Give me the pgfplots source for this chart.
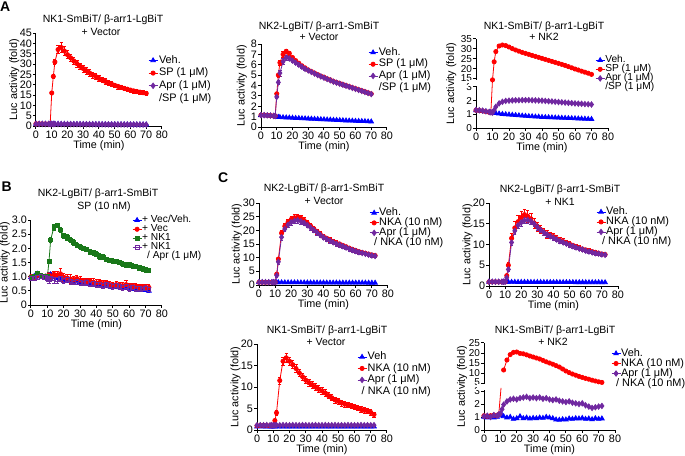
\documentclass[border=0pt]{standalone}
\usepackage{fontspec}
\setmainfont{Liberation Sans}
\usepackage{pgfplots}
\usepackage{pgfplotstable}
\pgfplotsset{compat=1.18}

\definecolor{cblue}{RGB}{0,0,255}
\definecolor{cred}{RGB}{255,0,0}
\definecolor{cpurple}{RGB}{112,40,160}
\definecolor{cgreen}{RGB}{25,120,25}

\newcommand\fs{\fontsize{10.5}{12}\selectfont}
\newcommand\ft{\fontsize{10.8}{12}\selectfont}
\newcommand\fl{\fontsize{10.9}{12}\selectfont}
\newcommand\fb{\fontsize{10.2}{12}\selectfont}
\newcommand\fk{\fontsize{10}{11}\selectfont}

\pgfplotsset{
  legend image code/.code={\draw[mark repeat=2,mark phase=2,#1] plot coordinates {(0pt,0pt) (4.5pt,0pt) (9pt,0pt)};},
  prism/.style={
    scale only axis, anchor=south west,
    axis lines=left, axis line style={line width=1pt,-},
    tick align=outside, major tick length=2.8pt,
    tick style={line width=1pt,black},
    enlargelimits=false, clip=false,
    xmin=0, xmax=80, xtick={0,10,...,80}, ymin=0,
    tick label style={font=\ft},
    yticklabel style={inner sep=1pt},
    xticklabel style={inner sep=2pt},
    label style={font=\ft},
    /pgf/number format/assume math mode=true,
    xlabel={Time (min)}, ylabel={Luc activity (fold)},
    xlabel style={at={(axis description cs:0.5,0)},anchor=center,yshift=-20pt},
    legend cell align=left,
    legend style={draw=none,fill=none,inner sep=0pt,anchor=north west,row sep=0pt,
      nodes={inner sep=1pt,font=\fl,text height=7.7pt,text depth=2.3pt}},
  },
  tight legend/.style={legend style={nodes={inner sep=0.2pt,font=\fb,text height=6.6pt,text depth=2.1pt}}},
  mid legend/.style={legend style={nodes={inner sep=0.2pt,text height=7.4pt,text depth=2.2pt}}},
  broken ticks/.style={yticklabel style={inner sep=0.3pt,xshift=-0.7pt,font=\fk}},
  veh/.style={color=cblue,line width=0.8pt,mark=triangle*,mark size=2.6pt},
  ag/.style={color=cred,line width=0.8pt,mark=*,mark size=2.1pt},
  apr/.style={color=cpurple,line width=0.8pt,mark=diamond*,mark size=2.7pt},
  nkg/.style={color=cgreen,line width=0.8pt,mark=square*,mark size=1.9pt},
  apro/.style={color=cpurple,line width=0.7pt,mark=square,mark size=1.9pt,mark options={fill=white}},
  eb/.style={error bars/.cd,y dir=both,y explicit,error bar style={line width=0.6pt},
    error mark options={rotate=90,mark size=1.6pt,line width=0.6pt}},
}

% A: NK1-SmBiT / b-arr1-LgBiT + Vector
\pgfplotstableread{
t veh sp esp apr
0 1.05 1.10 0.10 1.00
2 1.04 1.08 0.10 1.00
4 1.03 1.05 0.10 1.00
6 1.02 1.03 0.10 0.98
8 1.00 1.00 0.10 0.97
9 1.00 1.00 0.10 0.97
10 0.98 16.0 0.8 0.96
11 0.97 24.0 1.0 0.95
12 0.96 31.0 1.2 0.95
14 0.95 37.0 2.0 0.94
16 0.93 38.0 2.3 0.93
18 0.92 36.3 2.1 0.92
20 0.90 34.5 1.9 0.91
22 0.89 33.0 1.8 0.90
24 0.88 31.5 1.7 0.89
26 0.87 30.2 1.7 0.88
28 0.86 28.9 1.6 0.87
30 0.85 27.8 1.6 0.86
32 0.84 26.7 1.5 0.85
34 0.83 25.7 1.5 0.84
36 0.82 24.7 1.4 0.83
38 0.81 23.9 1.4 0.82
40 0.80 23.0 1.4 0.81
42 0.79 22.3 1.3 0.80
44 0.78 21.6 1.3 0.79
46 0.77 20.9 1.3 0.78
48 0.76 20.3 1.2 0.77
50 0.75 19.7 1.2 0.76
52 0.74 19.2 1.2 0.75
54 0.73 18.7 1.1 0.74
56 0.72 18.2 1.1 0.73
58 0.71 17.8 1.1 0.72
60 0.70 17.4 1.0 0.71
62 0.70 17.0 1.0 0.70
64 0.69 16.7 1.0 0.69
66 0.68 16.4 1.0 0.68
68 0.67 16.1 1.0 0.67
70 0.66 15.8 1.0 0.66
}\tAa

% A: NK2-LgBiT / b-arr1-SmBiT + Vector
\pgfplotstableread{
t veh sp esp apr eapr
0 1.12 1.15 0.05 1.14 0.05
2 1.12 1.15 0.05 1.14 0.05
4 1.10 1.13 0.05 1.12 0.05
6 1.08 1.10 0.05 1.10 0.05
8 1.05 1.08 0.05 1.07 0.05
9 1.03 1.06 0.05 1.05 0.05
10 0.97 3.20 0.15 2.90 0.15
11 0.96 5.00 0.20 4.30 0.20
12 0.95 6.20 0.25 5.20 0.30
14 0.93 7.00 0.25 6.30 0.30
16 0.91 7.30 0.20 6.70 0.25
18 0.90 7.10 0.20 6.60 0.20
20 0.88 6.70 0.15 6.40 0.20
22 0.86 6.40 0.15 6.20 0.15
24 0.85 6.15 0.15 6.00 0.15
26 0.83 5.90 0.10 5.80 0.15
28 0.82 5.70 0.10 5.60 0.10
30 0.80 5.50 0.10 5.45 0.10
32 0.79 5.35 0.10 5.30 0.10
34 0.77 5.20 0.10 5.15 0.10
36 0.76 5.05 0.10 5.00 0.10
38 0.74 4.90 0.10 4.87 0.10
40 0.73 4.80 0.10 4.75 0.10
42 0.71 4.65 0.10 4.62 0.10
44 0.70 4.55 0.10 4.50 0.10
46 0.68 4.40 0.10 4.37 0.10
48 0.67 4.30 0.10 4.27 0.10
50 0.65 4.20 0.10 4.17 0.10
52 0.64 4.10 0.10 4.07 0.10
54 0.62 4.00 0.10 3.97 0.10
56 0.61 3.90 0.10 3.87 0.10
58 0.60 3.80 0.10 3.77 0.10
60 0.58 3.70 0.10 3.67 0.10
62 0.57 3.60 0.10 3.57 0.10
64 0.56 3.50 0.10 3.47 0.10
66 0.55 3.40 0.10 3.37 0.10
68 0.53 3.30 0.10 3.27 0.10
70 0.52 3.20 0.10 3.17 0.10
}\tAb

% A: NK1-SmBiT / b-arr1-LgBiT + NK2 (broken axis)
\pgfplotstableread{
t veh sp apr
0 1.28 1.30 1.32
2 1.26 1.28 1.30
4 1.24 1.25 1.27
6 1.20 1.20 1.22
8 1.16 1.15 1.17
9 1.14 1.12 1.15
10 1.12 13.7 1.12
11 1.10 23.6 1.30
12 1.08 28.7 1.55
14 1.05 31.5 1.80
16 1.02 32.0 1.92
18 1.00 31.7 1.98
20 0.98 31.0 2.00
22 0.96 30.2 2.02
24 0.94 29.5 2.03
26 0.92 28.9 2.03
28 0.90 28.3 2.04
30 0.88 27.8 2.04
32 0.86 27.3 2.04
34 0.85 26.8 2.03
36 0.83 26.3 2.02
38 0.82 25.8 2.01
40 0.80 25.3 2.00
42 0.79 24.8 1.98
44 0.78 24.3 1.96
46 0.77 23.8 1.94
48 0.76 23.3 1.92
50 0.75 22.8 1.90
52 0.74 22.3 1.88
54 0.73 21.8 1.86
56 0.72 21.2 1.84
58 0.71 20.6 1.82
60 0.70 20.0 1.80
62 0.69 19.5 1.78
64 0.68 18.9 1.77
66 0.67 18.4 1.75
68 0.66 17.9 1.74
70 0.65 17.3 1.72
}\tAc

% B: NK2-LgBiT / b-arr1-SmBiT, SP (10 nM)
\pgfplotstableread{
t veh vec evec nk1 enk1 apr eapr
0 0.98 1.00 0.06 0.98 0.05 0.95 0.06
2 1.02 0.98 0.05 1.02 0.05 0.95 0.06
4 1.10 1.05 0.06 1.12 0.06 0.98 0.06
6 1.00 1.02 0.05 1.05 0.05 1.00 0.06
8 0.98 1.00 0.05 1.02 0.05 0.98 0.06
9 1.00 1.02 0.06 1.00 0.05 0.97 0.06
10 0.97 1.00 0.10 1.00 0.06 0.95 0.10
11 1.05 1.05 0.12 1.55 0.08 0.90 0.12
12 1.08 1.00 0.15 2.30 0.10 0.95 0.12
14 1.00 1.08 0.12 2.75 0.10 0.92 0.14
16 0.95 1.05 0.15 2.82 0.08 0.90 0.15
18 0.92 1.10 0.18 2.65 0.10 0.95 0.12
20 0.90 0.98 0.15 2.45 0.08 0.88 0.12
22 0.88 0.95 0.12 2.38 0.10 0.90 0.10
24 0.85 0.92 0.15 2.30 0.08 0.85 0.12
26 0.86 0.90 0.10 2.22 0.10 0.82 0.10
28 0.82 0.93 0.12 2.12 0.08 0.85 0.12
30 0.80 0.88 0.14 2.05 0.10 0.80 0.10
32 0.78 0.85 0.10 2.00 0.08 0.78 0.10
34 0.79 0.82 0.12 1.96 0.08 0.80 0.10
36 0.75 0.85 0.10 1.88 0.10 0.75 0.10
38 0.74 0.80 0.15 1.85 0.08 0.76 0.10
40 0.72 0.78 0.12 1.80 0.08 0.72 0.10
42 0.70 0.80 0.10 1.72 0.10 0.74 0.10
44 0.71 0.75 0.12 1.70 0.08 0.70 0.10
46 0.68 0.78 0.10 1.62 0.08 0.72 0.10
48 0.66 0.72 0.12 1.58 0.08 0.68 0.10
50 0.65 0.70 0.10 1.56 0.08 0.66 0.10
52 0.66 0.72 0.12 1.55 0.08 0.68 0.10
54 0.62 0.70 0.10 1.50 0.08 0.65 0.10
56 0.60 0.68 0.12 1.45 0.08 0.62 0.10
58 0.62 0.72 0.14 1.42 0.08 0.65 0.10
60 0.60 0.68 0.10 1.42 0.08 0.60 0.10
62 0.57 0.65 0.12 1.38 0.08 0.62 0.10
64 0.58 0.66 0.10 1.36 0.08 0.58 0.10
66 0.55 0.62 0.12 1.32 0.08 0.60 0.10
68 0.56 0.64 0.10 1.28 0.08 0.57 0.10
70 0.52 0.60 0.12 1.25 0.08 0.58 0.10
72 0.50 0.62 0.10 1.22 0.06 0.55 0.10
}\tB

% C: NK2-LgBiT / b-arr1-SmBiT + Vector
\pgfplotstableread{
t veh nka enka apr eapr
0 1.00 1.00 0.10 1.00 0.10
2 1.00 1.00 0.10 1.00 0.10
4 1.00 1.00 0.10 1.00 0.10
6 0.98 1.00 0.10 1.00 0.10
8 1.00 1.00 0.10 1.00 0.10
9 0.98 1.00 0.10 1.00 0.10
10 0.97 1.00 0.10 1.00 0.10
11 0.95 4.0 0.5 3.5 0.5
12 0.95 9.5 0.8 8.5 0.8
14 0.94 19.0 1.0 17.5 1.0
16 0.93 21.5 1.2 20.5 1.0
18 0.92 23.0 1.2 22.0 1.0
20 0.92 24.0 1.2 23.0 1.0
22 0.91 24.6 1.2 23.5 1.0
24 0.90 24.8 1.0 23.7 1.0
26 0.90 24.4 1.0 23.3 1.0
28 0.90 23.6 1.0 22.7 1.0
30 0.89 22.6 1.0 21.9 0.9
32 0.88 21.6 0.9 21.0 0.9
34 0.88 20.6 0.9 20.1 0.9
36 0.87 19.6 0.9 19.2 0.9
38 0.87 18.6 0.9 18.3 0.8
40 0.86 17.7 0.8 17.4 0.8
42 0.86 17.1 0.8 16.8 0.8
44 0.85 16.5 0.8 16.2 0.8
46 0.85 15.9 0.8 15.6 0.8
48 0.85 15.4 0.8 15.1 0.8
50 0.84 15.0 0.8 14.7 0.8
52 0.84 14.5 0.7 14.2 0.7
54 0.83 14.0 0.7 13.7 0.7
56 0.83 13.5 0.7 13.2 0.7
58 0.82 13.0 0.7 12.8 0.7
60 0.82 12.6 0.7 12.4 0.7
62 0.82 12.2 0.6 12.0 0.6
64 0.81 11.9 0.6 11.7 0.6
66 0.81 11.6 0.6 11.4 0.6
68 0.80 11.3 0.6 11.1 0.6
70 0.80 11.0 0.6 10.8 0.6
72 0.80 10.8 0.6 10.6 0.6
}\tCa

% C: NK2-LgBiT / b-arr1-SmBiT + NK1
\pgfplotstableread{
t veh nka enka apr eapr
0 1.00 1.00 0.10 1.00 0.10
2 1.00 1.00 0.10 1.00 0.10
4 1.00 1.00 0.10 1.00 0.10
6 1.00 1.00 0.10 1.00 0.10
8 1.00 1.00 0.10 1.00 0.10
9 1.00 1.00 0.10 1.00 0.10
10 0.98 1.00 0.10 1.00 0.10
11 0.97 2.5 0.4 2.0 0.3
12 0.97 5.0 0.8 4.0 0.5
14 0.96 11.5 1.2 10.5 0.8
16 0.96 14.0 1.5 13.3 0.8
18 0.95 15.5 1.6 14.6 0.8
20 0.95 16.5 1.5 15.3 0.8
22 0.95 17.2 1.3 15.8 0.8
24 0.94 16.8 1.4 15.9 0.7
26 0.94 16.2 1.3 15.6 0.7
28 0.93 15.2 1.2 15.0 0.7
30 0.93 14.3 1.0 14.2 0.7
32 0.93 13.6 1.0 13.5 0.6
34 0.92 13.0 0.9 12.9 0.6
36 0.92 12.5 0.9 12.4 0.6
38 0.92 12.2 0.8 12.0 0.6
40 0.91 11.9 0.8 11.6 0.6
42 0.91 11.4 0.7 11.2 0.5
44 0.91 11.0 0.7 10.8 0.5
46 0.90 10.7 0.7 10.5 0.5
48 0.90 10.4 0.6 10.2 0.5
50 0.90 10.1 0.6 9.9 0.5
52 0.90 9.8 0.6 9.6 0.5
54 0.89 9.5 0.6 9.3 0.5
56 0.89 9.2 0.5 9.0 0.4
58 0.89 8.9 0.5 8.8 0.4
60 0.89 8.7 0.5 8.5 0.4
62 0.88 8.5 0.5 8.3 0.4
64 0.88 8.3 0.4 8.1 0.4
66 0.88 8.1 0.4 7.9 0.4
68 0.88 7.9 0.4 7.8 0.4
70 0.87 7.7 0.4 7.6 0.4
72 0.87 7.6 0.4 7.5 0.4
}\tCb

% C: NK1-SmBiT / b-arr1-LgBiT + Vector
\pgfplotstableread{
t veh nka enka apr
0 0.80 1.00 0.10 1.10
2 0.82 1.05 0.10 1.12
4 0.80 1.10 0.10 1.10
6 0.78 1.05 0.10 1.15
8 0.80 1.00 0.10 1.10
9 0.80 1.00 0.10 1.12
10 0.78 1.10 0.10 1.10
11 0.80 2.2 0.3 1.15
12 0.82 4.0 0.5 1.12
14 0.78 11.5 0.8 1.10
16 0.80 16.0 1.0 1.15
18 0.78 16.8 1.0 1.12
20 0.80 16.0 0.9 1.10
22 0.78 15.2 0.9 1.15
24 0.80 14.3 0.9 1.12
26 0.78 13.3 0.8 1.10
28 0.80 12.4 0.8 1.15
30 0.78 11.6 0.8 1.12
32 0.80 11.0 0.8 1.10
34 0.78 10.5 0.8 1.12
36 0.80 10.0 0.8 1.15
38 0.78 9.5 0.8 1.10
40 0.80 9.1 0.8 1.12
42 0.78 8.6 0.8 1.15
44 0.80 8.0 0.7 1.10
46 0.78 7.5 0.7 1.12
48 0.80 7.0 0.7 1.15
50 0.78 6.7 0.7 1.10
52 0.80 6.3 0.7 1.12
54 0.78 6.0 0.7 1.10
56 0.80 5.8 0.6 1.15
58 0.78 5.6 0.6 1.12
60 0.80 5.4 0.6 1.10
62 0.78 5.1 0.6 1.12
64 0.80 4.8 0.6 1.15
66 0.78 4.6 0.6 1.10
68 0.80 4.4 0.6 1.12
70 0.78 4.1 0.6 1.10
72 0.80 3.6 0.6 1.12
}\tCc

% C: NK1-SmBiT / b-arr1-LgBiT + NK2 (broken axis)
\pgfplotstableread{
t veh nka apr
0 1.00 1.10 1.05
2 0.95 1.05 1.10
4 1.05 1.10 1.00
6 0.95 1.15 1.15
8 1.00 1.10 1.10
9 1.10 1.20 1.20
10 1.25 3.80 1.25
11 1.15 7.50 1.60
12 1.05 11.5 1.95
14 0.95 16.5 2.20
16 1.00 19.2 2.35
18 0.85 20.3 2.40
20 0.90 20.5 2.35
22 1.05 19.8 2.45
24 0.90 19.6 2.50
26 0.95 19.1 2.55
28 0.88 18.5 2.45
30 0.92 18.0 2.50
32 0.90 17.5 2.45
34 0.95 17.0 2.50
36 0.92 16.3 2.40
38 1.00 15.6 2.45
40 0.95 15.0 2.35
42 0.90 14.4 2.30
44 0.80 13.7 2.35
46 0.78 13.0 2.25
48 0.82 12.0 2.20
50 0.80 11.0 2.15
52 0.88 10.2 2.20
54 0.85 9.5 2.10
56 0.90 8.9 2.05
58 0.88 8.3 2.00
60 0.92 7.8 2.05
62 0.85 7.3 1.90
64 0.88 6.9 1.80
66 0.82 6.4 1.70
68 0.90 6.0 1.75
70 0.85 5.6 1.80
72 0.88 5.3 1.85
}\tCd

\begin{document}
\begin{tikzpicture}
\useasboundingbox (0,0) rectangle (685pt,-455pt);

% panel letters
\node[font=\fontsize{14}{14}\selectfont\bfseries,anchor=north west,inner sep=0pt] at (0pt,-2pt) {A};
\node[font=\fontsize{14}{14}\selectfont\bfseries,anchor=north west,inner sep=0pt] at (1.5pt,-181.5pt) {B};
\node[font=\fontsize{14}{14}\selectfont\bfseries,anchor=north west,inner sep=0pt] at (218pt,-173pt) {C};

% titles
\node[font=\fs,anchor=base] at (103pt,-22.5pt) {NK1-SmBiT/ β-arr1-LgBiT};
\node[font=\fs,anchor=base] at (101pt,-35.5pt) {+ Vector};
\node[font=\fs,anchor=base] at (319pt,-29.2pt) {NK2-LgBiT/ β-arr1-SmBiT};
\node[font=\fs,anchor=base] at (319pt,-40.2pt) {+ Vector};
\node[font=\fs,anchor=base] at (544pt,-29.2pt) {NK1-SmBiT/ β-arr1-LgBiT};
\node[font=\fs,anchor=base] at (544pt,-40.8pt) {+ NK2};
\node[font=\fs,anchor=base] at (98pt,-196.8pt) {NK2-LgBiT/ β-arr1-SmBiT};
\node[font=\fs,anchor=base] at (104pt,-209.2pt) {SP (10 nM)};
\node[font=\fs,anchor=base] at (324pt,-191.8pt) {NK2-LgBiT/ β-arr1-SmBiT};
\node[font=\fs,anchor=base] at (324pt,-204.5pt) {+ Vector};
\node[font=\fs,anchor=base] at (560pt,-192.5pt) {NK2-LgBiT/ β-arr1-SmBiT};
\node[font=\fs,anchor=base] at (560pt,-205.2pt) {+ NK1};
\node[font=\fs,anchor=base] at (327pt,-333.5pt) {NK1-SmBiT/ β-arr1-LgBiT};
\node[font=\fs,anchor=base] at (326pt,-345.2pt) {+ Vector};
\node[font=\fs,anchor=base] at (555pt,-333.5pt) {NK1-SmBiT/ β-arr1-LgBiT};
\node[font=\fs,anchor=base] at (553pt,-345.8pt) {+ NK2};

% ---- A1
\begin{axis}[prism, at={(36pt,-126pt)}, width=126pt, height=93pt,
  ymax=45, ytick={0,5,...,45},
  ylabel style={at={(axis description cs:-0.171,0.5)},anchor=center},
  legend style={at={(0.889,0.772)},row sep=0.7pt}]
\addplot[veh] table[x=t,y=veh]{\tAa}; \addlegendentry{Veh.}
\addplot[ag,eb] table[x=t,y=sp,y error=esp]{\tAa}; \addlegendentry{SP (1 μM)}
\addplot[apr] table[x=t,y=apr]{\tAa}; \addlegendentry{Apr (1 μM)}
\addlegendimage{empty legend}\addlegendentry{/SP (1 μM)}
\end{axis}

% ---- A2
\begin{axis}[prism, at={(261pt,-127pt)}, width=126pt, height=83pt,
  ymax=8, ytick={0,1,...,8},
  ylabel style={at={(axis description cs:-0.153,0.5)},anchor=center},
  legend style={at={(0.849,0.97)},nodes={inner sep=0.85pt}}]
\addplot[veh] table[x=t,y=veh]{\tAb}; \addlegendentry{Veh.}
\addplot[ag,eb] table[x=t,y=sp,y error=esp]{\tAb}; \addlegendentry{SP (1 μM)}
\addplot[apr,eb] table[x=t,y=apr,y error=eapr]{\tAb}; \addlegendentry{Apr (1 μM)}
\addlegendimage{empty legend}\addlegendentry{/SP (1 μM)}
\end{axis}

% ---- A3 (broken y axis: 0-3 and 15-35)
\begin{axis}[prism, at={(476pt,-128pt)}, width=132pt, height=89pt,
  y coord trafo/.code={\pgfmathparse{ifthenelse(#1<=3,#1*41/3,ifthenelse(#1<15,41+(#1-3)*2/3,49+(#1-15)*2))}},
  y coord inv trafo/.code={\pgfmathparse{ifthenelse(#1<=41,#1*3/41,ifthenelse(#1<49,3+(#1-41)*1.5,15+(#1-49)/2))}},
  ymin=0, ymax=35, ytick={0,1,2,3,15,20,25,30,35},
  yticklabels={0,1,2,\raisebox{-1.2pt}{3},\raisebox{1.2pt}{15},20,25,30,35},
  broken ticks,
  ylabel style={at={(axis description cs:-0.186,0.5)},anchor=center},
  tight legend, legend style={at={(0.902,0.815)}}]
\addplot[veh] table[x=t,y=veh]{\tAc}; \addlegendentry{Veh.}
\addplot[ag] table[x=t,y=sp]{\tAc}; \addlegendentry{SP (1 μM)}
\addplot[apr] table[x=t,y=apr]{\tAc}; \addlegendentry{Apr (1 μM)}
\addlegendimage{empty legend}\addlegendentry{/SP (1 μM)}
\fill[white] (rel axis cs:-0.05,0.468) rectangle (rel axis cs:0.012,0.544);
\end{axis}

% ---- B
\begin{axis}[prism, at={(31pt,-305pt)}, width=131pt, height=85pt,
  ymax=3, ytick={0,0.5,...,3}, yticklabels={0,0.5,1.0,1.5,2.0,2.5,3.0},
  ylabel style={at={(axis description cs:-0.2,0.5)},anchor=center},
  tight legend, legend style={at={(0.771,1.054)}}]
\addplot[veh] table[x=t,y=veh]{\tB}; \addlegendentry{+ Vec/Veh.}
\addplot[ag,eb] table[x=t,y=vec,y error=evec]{\tB}; \addlegendentry{+ Vec}
\addplot[nkg,eb] table[x=t,y=nk1,y error=enk1]{\tB}; \addlegendentry{+ NK1}
\addplot[apro,eb] table[x=t,y=apr,y error=eapr]{\tB}; \addlegendentry{+ NK1}
\addlegendimage{empty legend}\addlegendentry{\hspace*{5pt}/ Apr (1 μM)}
\end{axis}

% ---- C1
\begin{axis}[prism, at={(259pt,-285pt)}, width=129pt, height=82pt,
  ymax=30, ytick={0,5,...,30},
  ylabel style={at={(axis description cs:-0.171,0.5)},anchor=center},
  mid legend, legend style={at={(0.853,0.943)}}]
\addplot[veh] table[x=t,y=veh]{\tCa}; \addlegendentry{Veh.}
\addplot[ag,eb] table[x=t,y=nka,y error=enka]{\tCa}; \addlegendentry{NKA (10 nM)}
\addplot[apr,eb] table[x=t,y=apr,y error=eapr]{\tCa}; \addlegendentry{Apr (1 μM)}
\addlegendimage{empty legend}\addlegendentry{\hspace*{-5pt}/ NKA (10 nM)}
\end{axis}

% ---- C2
\begin{axis}[prism, at={(489pt,-286pt)}, width=129pt, height=83pt,
  ymax=20, ytick={0,5,...,20},
  ylabel style={at={(axis description cs:-0.167,0.5)},anchor=center},
  mid legend, legend style={at={(0.829,0.955)}}]
\addplot[veh] table[x=t,y=veh]{\tCb}; \addlegendentry{Veh.}
\addplot[ag,eb] table[x=t,y=nka,y error=enka]{\tCb}; \addlegendentry{NKA (10 nM)}
\addplot[apr,eb] table[x=t,y=apr,y error=eapr]{\tCb}; \addlegendentry{Apr (1 μM)}
\addlegendimage{empty legend}\addlegendentry{\hspace*{-4pt}/ NKA (10 nM)}
\end{axis}

% ---- C3
\begin{axis}[prism, at={(257pt,-430pt)}, width=130pt, height=86pt,
  ymax=20, ytick={0,5,...,20},
  ylabel style={at={(axis description cs:-0.165,0.5)},anchor=center},
  legend style={at={(0.769,0.919)},nodes={inner sep=0.75pt}}]
\addplot[veh] table[x=t,y=veh]{\tCc}; \addlegendentry{Veh}
\addplot[ag,eb] table[x=t,y=nka,y error=enka]{\tCc}; \addlegendentry{NKA (10 nM)}
\addplot[apr] table[x=t,y=apr]{\tCc}; \addlegendentry{Apr (1 μM)}
\addlegendimage{empty legend}\addlegendentry{\hspace*{-6pt}/ NKA (10 nM)}
\end{axis}

% ---- C4 (broken y axis: 0-3 and 5-25)
\begin{axis}[prism, at={(484pt,-430pt)}, width=131pt, height=87pt,
  y coord trafo/.code={\pgfmathparse{ifthenelse(#1<=3,#1*13,ifthenelse(#1<5,39+(#1-3)*4,47+(#1-5)*2))}},
  y coord inv trafo/.code={\pgfmathparse{ifthenelse(#1<=39,#1/13,ifthenelse(#1<47,3+(#1-39)/4,5+(#1-47)/2))}},
  ymin=0, ymax=25, ytick={0,1,2,3,5,10,15,20,25},
  yticklabels={0,1,2,\raisebox{-1.2pt}{3},\raisebox{1.2pt}{5},10,15,20,25},
  broken ticks,
  ylabel style={at={(axis description cs:-0.168,0.5)},anchor=center},
  mid legend, legend style={at={(0.969,0.939)}}]
\addplot[veh] table[x=t,y=veh]{\tCd}; \addlegendentry{Veh.}
\addplot[ag,restrict x to domain=0:9] table[x=t,y=nka]{\tCd}; \addlegendentry{NKA (10 nM)}
\addplot[ag,forget plot,restrict x to domain=12:72] table[x=t,y=nka]{\tCd};
\addplot[cred,line width=0.8pt,no markers,forget plot] coordinates {(9,1.2) (10.4,3.8)};
\addplot[apr] table[x=t,y=apr]{\tCd}; \addlegendentry{Apr (1 μM)}
\addlegendimage{empty legend}\addlegendentry{\hspace*{-5pt}/ NKA (10 nM)}
\fill[white] (rel axis cs:-0.05,0.456) rectangle (rel axis cs:0.012,0.532);
\end{axis}
\end{tikzpicture}
\end{document}
